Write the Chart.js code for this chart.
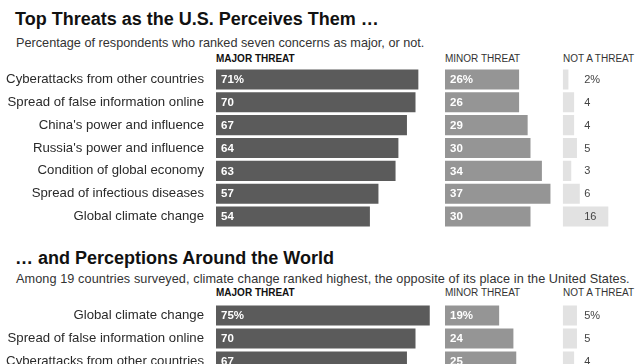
<!DOCTYPE html>
<html>
<head>
<meta charset="utf-8">
<script src="https://cdn.jsdelivr.net/npm/chart.js@4"></script>
<style>
  html, body { margin: 0; padding: 0; background: #fff; width: 640px; height: 364px; overflow: hidden; }
  body { position: relative; font-family: "Liberation Sans", Arial, Helvetica, sans-serif; color: #222; }
  .t { position: absolute; white-space: nowrap; line-height: 1; }
  .title { font-size: 18px; font-weight: bold; color: #111; left: 15px; }
  .sub { font-size: 12.7px; color: #333; left: 16px; }
  .head { font-size: 10px; color: #333; }
  .head.b { font-weight: bold; color: #111; }
  .box { position: absolute; left: 0; width: 640px; }
</style>
</head>
<body>
<div class="t title" style="top:10px">Top Threats as the U.S. Perceives Them …</div>
<div class="t sub" style="top:36.5px">Percentage of respondents who ranked seven concerns as major, or not.</div>
<div class="t head b" style="top:53.5px;left:216px">MAJOR THREAT</div>
<div class="t head" style="top:53.5px;left:445px">MINOR THREAT</div>
<div class="t head" style="top:53.5px;left:563px">NOT A THREAT</div>
<div class="box" style="top:68px;height:160px"><canvas id="usChart"></canvas></div>

<div class="t title" style="top:249px">… and Perceptions Around the World</div>
<div class="t sub" style="top:272.5px;letter-spacing:0.08px">Among 19 countries surveyed, climate change ranked highest, the opposite of its place in the United States.</div>
<div class="t head b" style="top:288px;left:216px">MAJOR THREAT</div>
<div class="t head" style="top:288px;left:445px">MINOR THREAT</div>
<div class="t head" style="top:288px;left:563px">NOT A THREAT</div>
<div class="box" style="top:304px;height:69px"><canvas id="worldChart"></canvas></div>

<script>
// Datos: Estados Unidos
const usLabels = ["Cyberattacks from other countries", "Spread of false information online",
    "China's power and influence", "Russia's power and influence", "Condition of global economy",
    "Spread of infectious diseases", "Global climate change"];
const usMajor = [71, 70, 67, 64, 63, 57, 54];
const usMinor = [26, 26, 29, 30, 34, 37, 30];
const usNot = [2, 4, 4, 5, 3, 6, 16];

// Datos: 19 países (solo las filas visibles)
const worldLabels = ["Global climate change", "Spread of false information online", "Cyberattacks from other countries"];
const worldMajor = [75, 70, 67];
const worldMinor = [19, 24, 25];
const worldNot = [5, 5, 4];

const FONT = '"Liberation Sans", Arial, Helvetica, sans-serif';
const PX_PER_PCT = 2.85;
// ancho de cada columna en píxeles
const colWidths = { xMajor: 229, xMinor: 117.7, xNot: 77.3 };

// Etiquetas de valor dentro / al lado de las barras
const valueLabels = {
    id: 'valueLabels',
    afterDatasetsDraw(chart) {
        const ctx = chart.ctx;
        ctx.save();
        chart.data.datasets.forEach((ds, di) => {
            const meta = chart.getDatasetMeta(di);
            meta.data.forEach((bar, i) => {
                const txt = ds.data[i] + (i === 0 ? '%' : '');
                ctx.textBaseline = 'middle';
                ctx.textAlign = 'left';
                if (ds.xAxisID === 'xNot') {
                    ctx.fillStyle = '#444';
                    ctx.font = '11px ' + FONT;
                    ctx.fillText(txt, bar.base + 21.5, bar.y + 0.5);
                } else {
                    ctx.fillStyle = '#fff';
                    ctx.font = 'bold 11.5px ' + FONT;
                    ctx.fillText(txt, bar.base + 5, bar.y + 0.5);
                }
            });
        });
        ctx.restore();
    }
};

// Un eje x oculto por columna, apilados uno al lado del otro
function hiddenX(id) {
    return {
        type: 'linear',
        position: 'bottom',
        stack: 'cols',
        stackWeight: colWidths[id],
        min: 0,
        max: colWidths[id] / PX_PER_PCT,
        grid: { display: false, drawTicks: false },
        border: { display: false },
        ticks: { display: false, padding: 0 },
        afterFit: s => { s.height = 0; s.paddingTop = 0; s.paddingBottom = 0; }
    };
}

function makeChart(canvasId, labels, major, minor, notThreat) {
    const common = { grouped: false, barPercentage: 0.877, categoryPercentage: 1, borderWidth: 0 };
    return new Chart(document.getElementById(canvasId), {
        type: 'bar',
        data: {
            labels: labels,
            datasets: [
                { ...common, label: 'Major threat', data: major, backgroundColor: '#5b5b5b', xAxisID: 'xMajor' },
                { ...common, label: 'Minor threat', data: minor, backgroundColor: '#959595', xAxisID: 'xMinor' },
                { ...common, label: 'Not a threat', data: notThreat, backgroundColor: '#e2e2e2', xAxisID: 'xNot' }
            ]
        },
        options: {
            indexAxis: 'y',
            responsive: true,
            maintainAspectRatio: false,
            animation: false,
            layout: { padding: 0 },
            plugins: { legend: { display: false }, tooltip: { enabled: false } },
            scales: {
                xMajor: hiddenX('xMajor'),
                xMinor: hiddenX('xMinor'),
                xNot: hiddenX('xNot'),
                y: {
                    grid: { display: false, drawTicks: false },
                    border: { display: false },
                    ticks: { color: '#2a2a2a', padding: 12, font: { family: FONT, size: 13.2 } },
                    afterFit: s => { s.width = 216; s.paddingTop = 0; s.paddingBottom = 0; }
                }
            }
        },
        plugins: [valueLabels]
    });
}

const usChart = makeChart('usChart', usLabels, usMajor, usMinor, usNot);
const worldChart = makeChart('worldChart', worldLabels, worldMajor, worldMinor, worldNot);
</script>
</body>
</html>
